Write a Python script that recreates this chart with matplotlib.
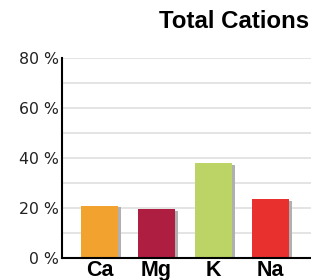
import matplotlib
matplotlib.use("Agg")
import matplotlib.pyplot as plt

# values (percent of total cations)
cations = ["Ca", "Mg", "K", "Na"]
shares = [21.0, 19.5, 38.0, 23.5]
bar_colors = ["#f2a22e", "#ae1e40", "#bcd466", "#e8302f"]
y_ticks = [0, 20, 40, 60, 80]
y_minor = [10, 30, 50, 70]
y_labels = ["0 %", "20 %", "40 %", "60 %", "80 %"]

fig = plt.figure(figsize=(3.11, 2.80), dpi=100)
ax = fig.add_axes([62 / 311, 22 / 280, 1 - 62 / 311, 200 / 280])

pos = list(range(len(cations)))
width = 0.65

# soft drop shadow on the right of each bar
shadow_pos = [p + 0.055 for p in pos]
shadow_h = [s - 0.6 for s in shares]
ax.bar(shadow_pos, shadow_h, width=width, color="#b0b0b0", zorder=2)
ax.bar(pos, shares, width=width, color=bar_colors, zorder=3)

ax.set_xlim(-0.66, 3.71)
ax.set_ylim(0, 80)

ax.set_yticks(y_ticks)
ax.set_yticklabels(y_labels, fontsize=11.3, family="DejaVu Sans", color="#222222")
ax.set_yticks(y_minor, minor=True)
ax.tick_params(axis="y", which="both", length=0, pad=2)
ax.grid(axis="y", which="both", color="#e2e2e2", linewidth=1.3, zorder=0)

ax.set_xticks(pos)
ax.set_xticklabels(cations, fontsize=15.5, fontweight="bold", family="Liberation Sans")
ax.tick_params(axis="x", length=0, pad=1.5)

for side in ["top", "right"]:
    ax.spines[side].set_visible(False)
for side in ["left", "bottom"]:
    ax.spines[side].set_color("black")
    ax.spines[side].set_linewidth(1.5)
    ax.spines[side].set_zorder(4)

fig.text(309 / 311, 1 - 28 / 280, "Total Cations", ha="right", va="baseline",
         fontsize=17.3, fontweight="bold", family="Liberation Sans")

fig.savefig("out.png", dpi=100)
